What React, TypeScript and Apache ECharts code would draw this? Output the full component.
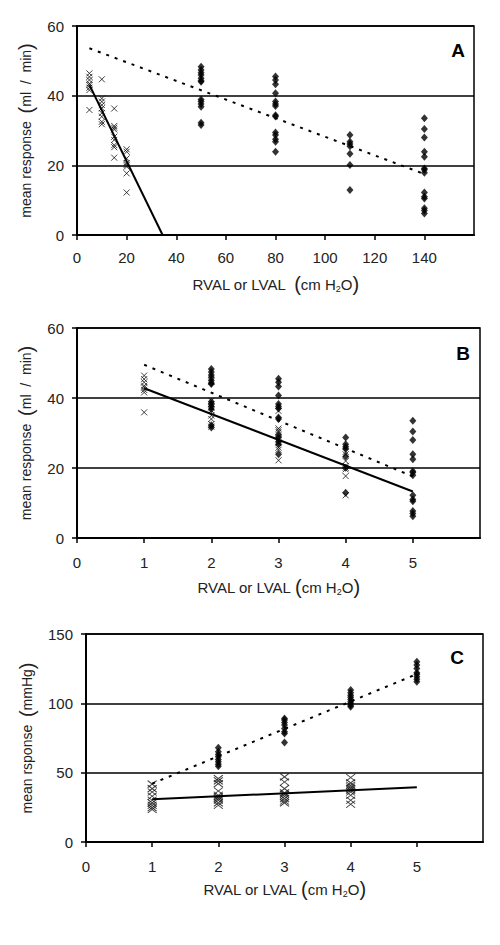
import React, { useEffect, useRef } from "react";
import * as echarts from "echarts";

// ---------- data ----------
// Panel A x positions (cm H2O)
const crossXA = [5, 10, 15, 20];
const diamXA = [50, 80, 110, 140];
// Panel B / C x positions
const crossXB = [1, 2, 3, 4];
const diamXB = [2, 3, 4, 5];
const crossXC = [1, 2, 3, 4];
const diamXC = [2, 3, 4, 5];

// mean response (ml/min), crosses group
const crossA1 = [46.4, 45.4, 44.5, 43.5, 43.0, 42.3, 41.6, 35.9];
const crossA2 = [44.7, 39.2, 38.3, 37.3, 36.4, 35.0, 34.0, 32.5, 31.8];
const crossA3 = [36.3, 31.3, 30.8, 30.3, 28.2, 27.3, 25.8, 25.2, 22.2];
const crossA4 = [24.6, 23.9, 22.0, 20.6, 20.1, 19.6, 17.7, 12.2];
// mean response (ml/min), filled group
const diamA1 = [48.3, 47.4, 46.6, 45.9, 45.0, 44.3, 44.0, 38.9, 38.3, 37.6, 36.8, 32.2, 31.6];
const diamA2 = [45.5, 44.5, 43.3, 40.7, 38.3, 37.6, 37.0, 34.4, 34.0, 29.4, 28.7, 27.5, 26.8, 23.9];
const diamA3 = [28.7, 26.8, 26.1, 25.5, 23.3, 20.1, 12.9];
const diamA4 = [33.5, 30.4, 28.0, 23.9, 22.5, 19.1, 18.7, 17.9, 12.2, 11.0, 10.5, 7.7, 7.0, 6.2];

// mean response (mmHg), panel C
const crossC1 = [41.7, 38.5, 36.1, 33.0, 30.1, 28.2, 26.5, 24.8, 23.4];
const crossC2 = [45.7, 44.1, 42.1, 36.8, 33.7, 32.5, 31.3, 30.1, 28.2, 26.5];
const crossC3 = [47.0, 43.3, 38.5, 35.4, 34.4, 33.0, 31.3, 29.6, 28.2];
const crossC4 = [46.5, 42.6, 40.9, 39.7, 38.5, 37.3, 36.1, 33.7, 30.1, 27.2];
const diamC1 = [67.9, 65.0, 63.1, 61.4, 59.5, 57.8, 56.1, 54.7];
const diamC2 = [89.1, 87.9, 86.2, 84.3, 81.9, 79.5, 78.3, 71.8];
const diamC3 = [109.6, 107.6, 105.9, 104.3, 102.8, 101.1, 99.9, 98.7, 97.5];
const diamC4 = [130.0, 127.6, 125.2, 122.1, 120.9, 119.2, 117.3, 115.6];

// regression lines [x, y] endpoints
const solidA = [[5, 43.1], [34.5, 0]];
const dottedA = [[5, 53.6], [140, 17.5]];
const solidB = [[1, 42.8], [5, 13.3]];
const dottedB = [[1, 49.5], [5, 17.6]];
const solidC = [[1, 30.8], [5, 39.5]];
const dottedC = [[1, 42.1], [5, 121.1]];

const crossGroupsA = [crossA1, crossA2, crossA3, crossA4];
const diamGroupsA = [diamA1, diamA2, diamA3, diamA4];
const crossGroupsC = [crossC1, crossC2, crossC3, crossC4];
const diamGroupsC = [diamC1, diamC2, diamC3, diamC4];

const FONT = "'Liberation Sans', Arial, sans-serif";
const CROSS = "path://M0 0L10 10M10 0L0 10";

function pairs(xs: number[], groups: number[][]) {
  const out: number[][] = [];
  xs.forEach((x, i) => groups[i].forEach((v) => out.push([x, v])));
  return out;
}

function xAxis(idx: number, max: number, interval: number, margin: number, nameGap: number, wide: boolean) {
  return {
    gridIndex: idx,
    type: "value",
    min: 0,
    max,
    interval,
    name: wide ? "RVAL or LVAL  {p|(}cm H{s|2}O{p|)}" : "RVAL or LVAL {p|(}cm H{s|2}O{p|)}",
    nameLocation: "middle",
    nameGap,
    nameTextStyle: {
      fontFamily: FONT,
      fontSize: 15,
      color: "#222",
      rich: {
        p: { fontFamily: FONT, fontSize: 20, color: "#222" },
        s: { fontFamily: FONT, fontSize: 9, color: "#222", padding: [10, 0, 0, 0] },
      },
    },
    axisLine: { show: true, lineStyle: { color: "#000", width: 2 } },
    axisTick: { show: true, inside: false, length: 5, lineStyle: { color: "#000", width: 1.5 } },
    axisLabel: { show: true, margin, showMaxLabel: false, fontFamily: FONT, fontSize: 15, color: "#222" },
    splitLine: { show: false },
  };
}

function yAxis(idx: number, max: number, interval: number, name: string, nameGap: number) {
  return {
    gridIndex: idx,
    type: "value",
    min: 0,
    max,
    interval,
    name,
    nameLocation: "middle",
    nameGap,
    nameTextStyle: {
      fontFamily: FONT,
      fontSize: 14,
      color: "#222",
      rich: { p: { fontFamily: FONT, fontSize: 20, color: "#222" } },
    },
    axisLine: { show: true, lineStyle: { color: "#000", width: 2 } },
    axisTick: { show: true, inside: false, length: 5, lineStyle: { color: "#000", width: 1.5 } },
    axisLabel: { show: true, margin: 13, fontFamily: FONT, fontSize: 15, color: "#222" },
    splitLine: { show: true, lineStyle: { color: "#000", width: 1.5 } },
  };
}

function panelSeries(idx: number, crosses: number[][], diams: number[][], solid: number[][], dotted: number[][], crossSize: number[]) {
  return [
    {
      type: "scatter",
      xAxisIndex: idx,
      yAxisIndex: idx,
      data: crosses,
      symbol: CROSS,
      symbolSize: crossSize,
      itemStyle: { color: "transparent", borderColor: "#111", borderWidth: 1 },
      z: 3,
    },
    {
      type: "scatter",
      xAxisIndex: idx,
      yAxisIndex: idx,
      data: diams,
      symbol: "diamond",
      symbolSize: [7, 8],
      itemStyle: { color: "#000" },
      z: 4,
    },
    {
      type: "line",
      xAxisIndex: idx,
      yAxisIndex: idx,
      data: solid,
      symbol: "none",
      lineStyle: { color: "#000", width: 2, type: "solid" },
      z: 5,
    },
    {
      type: "line",
      xAxisIndex: idx,
      yAxisIndex: idx,
      data: dotted,
      symbol: "none",
      lineStyle: { color: "#000", width: 2, type: [3, 6] },
      z: 5,
    },
  ];
}

export default function App() {
  const ref = useRef<HTMLDivElement>(null);
  useEffect(() => {
    document.body.style.margin = "0";
    if (!ref.current) return;
    const chart = echarts.init(ref.current, undefined, { renderer: "svg" });
    const gridStyle = { show: true, borderColor: "#000", borderWidth: 1.5, backgroundColor: "#fff" };
    const option = {
      animation: false,
      backgroundColor: "#fff",
      grid: [
        { left: 77, top: 26, width: 397, height: 209, ...gridStyle },
        { left: 77, top: 328, width: 403, height: 210, ...gridStyle },
        { left: 86, top: 634, width: 397, height: 208, ...gridStyle },
      ],
      xAxis: [
        xAxis(0, 160, 20, 15, 39, true),
        xAxis(1, 6, 1, 17, 39, false),
        xAxis(2, 6, 1, 17, 37, false),
      ],
      yAxis: [
        yAxis(0, 60, 20, "mean response  {p|(}ml  /  min{p|)}", 41),
        yAxis(1, 60, 20, "mean response  {p|(}ml  /  min{p|)}", 41),
        yAxis(2, 150, 50, "mean rsponse  {p|(}mmHg{p|)}", 49),
      ],
      series: [
        ...panelSeries(0, pairs(crossXA, crossGroupsA), pairs(diamXA, diamGroupsA), solidA, dottedA, [6, 6]),
        ...panelSeries(1, pairs(crossXB, crossGroupsA), pairs(diamXB, diamGroupsA), solidB, dottedB, [6, 6]),
        ...panelSeries(2, pairs(crossXC, crossGroupsC), pairs(diamXC, diamGroupsC), solidC, dottedC, [9, 7]),
      ],
      graphic: [
        { type: "text", x: 458, y: 50, style: { text: "A", font: `bold 19px ${FONT}`, fill: "#000", align: "center", verticalAlign: "middle" } },
        { type: "text", x: 463, y: 353, style: { text: "B", font: `bold 19px ${FONT}`, fill: "#000", align: "center", verticalAlign: "middle" } },
        { type: "text", x: 457, y: 657, style: { text: "C", font: `bold 19px ${FONT}`, fill: "#000", align: "center", verticalAlign: "middle" } },
      ],
    };
    chart.setOption(option as any);
    return () => chart.dispose();
  }, []);
  return <div ref={ref} style={{ width: 500, height: 945 }} />;
}
